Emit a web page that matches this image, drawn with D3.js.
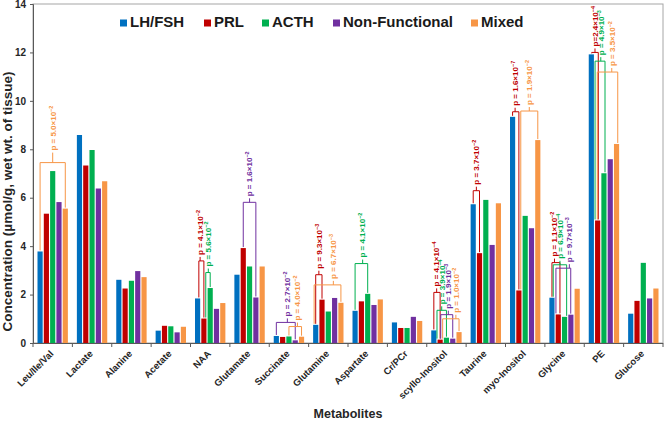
<!DOCTYPE html>
<html><head><meta charset="utf-8">
<script src="https://cdn.jsdelivr.net/npm/d3@7"></script>
<style>body{margin:0;background:#fff}svg{display:block;font-family:"Liberation Sans",Arial,sans-serif}</style>
</head><body><svg id="c" width="665" height="423"></svg>
<script>
const categories = ["Leu/Ile/Val","Lactate","Alanine","Acetate","NAA","Glutamate","Succinate","Glutamine","Aspartate","Cr/PCr","scyllo-Inositol","Taurine","myo-Inositol","Glycine","PE","Glucose"];
const seriesNames = ["LH/FSH","PRL","ACTH","Non-Functional","Mixed"];
const lhFsh = [3.78, 8.59, 2.61, 0.51, 1.84, 2.82, 0.29, 0.75, 1.33, 0.85, 0.52, 5.73, 9.34, 1.87, 11.92, 1.21];
const prl = [5.34, 7.33, 2.25, 0.71, 1.01, 3.92, 0.25, 1.79, 1.72, 0.62, 0.14, 3.71, 2.17, 1.18, 5.06, 1.74];
const acth = [7.10, 7.97, 2.57, 0.69, 2.27, 3.16, 0.27, 1.30, 2.03, 0.62, 0.22, 5.91, 5.25, 1.08, 7.01, 3.31];
const nonFunctional = [5.82, 6.38, 2.97, 0.44, 1.41, 1.88, 0.11, 1.86, 1.57, 1.08, 0.18, 4.05, 4.74, 1.17, 7.59, 1.84];
const mixed = [5.55, 6.68, 2.72, 0.67, 1.65, 3.16, 0.26, 1.66, 1.80, 0.91, 0.45, 5.77, 8.38, 2.24, 8.22, 2.25];
const yTicks = [0, 2, 4, 6, 8, 10, 12, 14];
const colors = ["#0070C0", "#C00000", "#00B050", "#7030A0", "#F79646"];
// significance brackets: category, from series, to series, level, tick position (series units), colour series, label
const brackets = [
  {cat:"Leu/Ile/Val", a:0, b:4, level:7.45, tick:2, s:4, p:"5.0", e:"-2", tl:10},
  {cat:"NAA", a:0.2, b:1, level:3.39, tick:0.4, s:1, p:"4.1", e:"-2"},
  {cat:"NAA", a:1.3, b:2, level:2.91, tick:1.7, s:2, p:"5.6", e:"-2"},
  {cat:"Glutamate", a:1, b:3, level:5.81, tick:2, s:3, p:"1.6", e:"-2"},
  {cat:"Succinate", a:0, b:3, level:0.85, tick:1.75, s:3, p:"2.7", e:"-2"},
  {cat:"Succinate", a:2, b:4, level:0.68, tick:3.35, s:4, p:"4.0", e:"-2"},
  {cat:"Glutamine", a:0, b:1, level:2.82, tick:0.5, s:1, p:"9.3", e:"-3"},
  {cat:"Glutamine", a:-0.25, b:4, level:2.40, tick:2.8, s:4, p:"6.7", e:"-3"},
  {cat:"Aspartate", a:0, b:2, level:3.28, tick:1.2, s:2, p:"4.1", e:"-2"},
  {cat:"scyllo-Inositol", a:0, b:1, level:2.09, tick:0.45, s:1, p:"4.1", e:"-4"},
  {cat:"scyllo-Inositol", a:0.5, b:2, level:1.35, tick:1.25, s:2, p:"3.9", e:"-4"},
  {cat:"scyllo-Inositol", a:1.1, b:3, level:1.17, tick:2.3, s:3, p:"1.9", e:"-3"},
  {cat:"scyllo-Inositol", a:1.4, b:4, level:1.00, tick:3.5, s:4, p:"1.0", e:"-2"},
  {cat:"Taurine", a:0, b:1, level:6.29, tick:0.5, s:1, p:"3.7", e:"-2"},
  {cat:"myo-Inositol", a:0, b:1, level:9.55, tick:0.4, s:1, p:"1.6", e:"-7"},
  {cat:"myo-Inositol", a:1.3, b:4, level:9.58, tick:2.65, s:4, p:"1.9", e:"-2"},
  {cat:"Glycine", a:0, b:1.27, level:3.32, tick:0.4, s:1, p:"1.1", e:"-2"},
  {cat:"Glycine", a:0.2, b:2.33, level:3.23, tick:1.27, s:2, p:"6.9", e:"-4"},
  {cat:"Glycine", a:0.63, b:2.98, level:3.09, tick:2.76, s:3, p:"9.7", e:"-3"},
  {cat:"PE", a:0.06, b:1.1, level:12.0, tick:0.58, s:1, p:"2.4", e:"-4", tight:true},
  {cat:"PE", a:0.59, b:2.17, level:11.64, tick:1.5, s:2, p:"4.9", e:"-3"},
  {cat:"PE", a:0.95, b:4.19, level:11.19, tick:3.24, s:4, p:"3.5", e:"-2"}
];

const seriesValues = [lhFsh, prl, acth, nonFunctional, mixed];
const svg = d3.select("#c");
const L = 33, R = 663, T = 4, B = 343;
const x0 = d3.scaleBand().domain(categories).range([L, R]).paddingInner(0).paddingOuter(0);
const x1 = d3.scaleBand().domain(d3.range(5)).range([4.5, x0.bandwidth() - 4.5]).paddingInner(0.18).paddingOuter(0);
const y = d3.scaleLinear().domain([0, 14]).range([B, T]);
const step = x1.step();
const sx = (cat, i) => x0(cat) + x1(0) + x1.bandwidth() / 2 + i * step;

// frame
svg.append("rect").attr("x", L).attr("y", T).attr("width", R - L).attr("height", B - T)
  .attr("fill", "none").attr("stroke", "#a6a6a6").attr("stroke-width", 1);

// bars
const g = svg.append("g");
categories.forEach((cat, ci) => {
  seriesValues.forEach((vals, si) => {
    g.append("rect").attr("x", x0(cat) + x1(si)).attr("width", x1.bandwidth())
      .attr("y", y(vals[ci])).attr("height", B - y(vals[ci])).attr("fill", colors[si]);
  });
});

// axes
const yAxis = d3.axisLeft(y).tickValues(yTicks).tickSize(3).tickFormat(d3.format("d"));
const ya = svg.append("g").attr("transform", `translate(${L},0)`).call(yAxis);
ya.select(".domain").attr("stroke", "#595959");
ya.selectAll(".tick line").attr("stroke", "#595959");
ya.selectAll("text").attr("font-size", 10).attr("font-weight", "bold").attr("fill", "#262626").attr("x", -7);

const xa = svg.append("g");
xa.append("line").attr("x1", L).attr("x2", R).attr("y1", B + 0.5).attr("y2", B + 0.5).attr("stroke", "#595959");
categories.concat(["end"]).forEach((c, i) => {
  const xx = c === "end" ? R : x0(c);
  xa.append("line").attr("x1", xx).attr("x2", xx).attr("y1", B).attr("y2", B + 4).attr("stroke", "#595959");
});
categories.forEach(c => {
  const cx = x0(c) + x0.bandwidth() / 2;
  xa.append("text").attr("transform", `translate(${cx - 1},${B + 9}) rotate(-45)`)
    .attr("text-anchor", "end").attr("dy", "0.35em").attr("font-size", 9.5).attr("font-weight", "bold")
    .attr("fill", "#262626").text(c);
});

// titles
svg.append("text").attr("transform", `translate(12,${(T + B) / 2 + 28}) rotate(-90)`)
  .attr("text-anchor", "middle").attr("font-size", 13.5).attr("font-weight", "bold").attr("fill", "#262626")
  .text("Concentration (µmol/g, wet wt. of tissue)");
svg.append("text").attr("x", 348).attr("y", 418).attr("text-anchor", "middle")
  .attr("font-size", 12.5).attr("font-weight", "bold").attr("fill", "#262626").text("Metabolites");

// legend
const legX = [120, 204, 262, 333, 471];
seriesNames.forEach((n, i) => {
  svg.append("rect").attr("x", legX[i]).attr("y", 19.5).attr("width", 7).attr("height", 7).attr("fill", colors[i]);
  svg.append("text").attr("x", legX[i] + 10).attr("y", 27).attr("font-size", 15).attr("font-weight", "bold")
    .attr("fill", "#1a1a1a").text(n);
});

// brackets
const ag = svg.append("g");
brackets.forEach(bk => {
  const col = colors[bk.s];
  const ci = categories.indexOf(bk.cat);
  const xa_ = sx(bk.cat, bk.a), xb_ = sx(bk.cat, bk.b), xt = sx(bk.cat, bk.tick);
  const yl = y(bk.level);
  const ya_ = y(seriesValues[Math.max(0, Math.round(bk.a))][ci]) - 1;
  const yb_ = y(seriesValues[Math.round(bk.b)][ci]) - 1;
  const tl = bk.tl || 4;
  const path = `M${xa_},${ya_}V${yl}H${xb_}V${yb_}M${xt},${yl}V${yl - tl}`;
  ag.append("path").attr("d", path).attr("fill", "none").attr("stroke", col).attr("stroke-width", 1);
  const t = ag.append("text").attr("transform", `translate(${xt},${yl - tl - 2}) rotate(-90)`)
    .attr("dy", "0.35em").attr("font-size", 8).attr("font-weight", "bold").attr("fill", col);
  t.append("tspan").text((bk.tight ? "p=" : "p = ") + bk.p + "×10");
  t.append("tspan").attr("font-size", 5.5).attr("dy", -3).text(bk.e.replace("-", "−"));
});
</script></body></html>
